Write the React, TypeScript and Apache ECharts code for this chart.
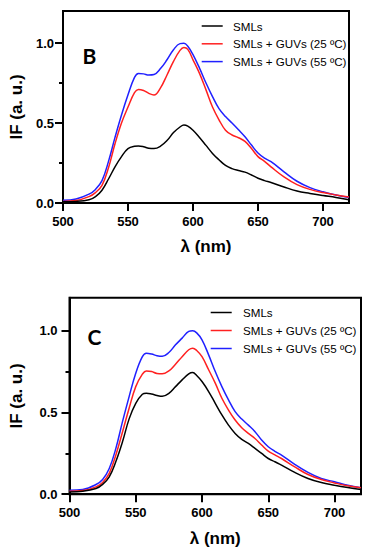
import React, { useEffect, useRef } from "react";
import * as echarts from "echarts";

const wavelengths = [500, 510, 520, 525, 530, 535, 540, 545, 550, 555, 558, 562, 566, 570, 575, 580, 585, 590, 593, 596, 600, 605, 610, 615, 620, 625, 630, 635, 640, 645, 650, 655, 660, 670, 680, 690, 700, 710, 720];

const seriesNames = ["SMLs", "SMLs + GUVs (25 ºC)", "SMLs + GUVs (55 ºC)"];
const seriesColors = ["#000000", "#ff2020", "#2020ff"];

// Panel B
const bSMLs = [0.008, 0.01, 0.02, 0.04, 0.08, 0.15, 0.226, 0.29, 0.34, 0.355, 0.357, 0.352, 0.342, 0.34, 0.355, 0.39, 0.44, 0.475, 0.487, 0.48, 0.455, 0.41, 0.36, 0.31, 0.27, 0.235, 0.215, 0.203, 0.193, 0.175, 0.155, 0.14, 0.128, 0.1, 0.075, 0.06, 0.047, 0.035, 0.02];
const bGUV25 = [0.01, 0.015, 0.04, 0.065, 0.11, 0.22, 0.37, 0.5, 0.6, 0.69, 0.71, 0.703, 0.685, 0.675, 0.72, 0.8, 0.885, 0.954, 0.972, 0.96, 0.895, 0.81, 0.707, 0.6, 0.52, 0.455, 0.425, 0.408, 0.385, 0.34, 0.29, 0.26, 0.226, 0.163, 0.115, 0.085, 0.065, 0.05, 0.038];
const bGUV55 = [0.017, 0.025, 0.055, 0.085, 0.14, 0.26, 0.41, 0.55, 0.676, 0.785, 0.81, 0.807, 0.8, 0.803, 0.84, 0.895, 0.958, 0.996, 0.998, 0.98, 0.927, 0.843, 0.75, 0.665, 0.59, 0.54, 0.5, 0.458, 0.414, 0.362, 0.312, 0.28, 0.258, 0.195, 0.136, 0.096, 0.07, 0.05, 0.035];

// Panel C
const cSMLs = [0.014, 0.018, 0.035, 0.06, 0.106, 0.2, 0.32, 0.46, 0.555, 0.61, 0.617, 0.612, 0.603, 0.598, 0.616, 0.657, 0.698, 0.735, 0.743, 0.725, 0.688, 0.627, 0.555, 0.484, 0.422, 0.371, 0.335, 0.31, 0.28, 0.249, 0.218, 0.198, 0.178, 0.133, 0.096, 0.071, 0.055, 0.041, 0.029];
const cGUV25 = [0.018, 0.022, 0.045, 0.072, 0.127, 0.24, 0.38, 0.525, 0.657, 0.733, 0.753, 0.749, 0.737, 0.735, 0.753, 0.794, 0.84, 0.882, 0.892, 0.878, 0.84, 0.76, 0.678, 0.586, 0.514, 0.453, 0.406, 0.371, 0.34, 0.3, 0.263, 0.24, 0.218, 0.167, 0.12, 0.09, 0.069, 0.051, 0.039];
const cGUV55 = [0.024, 0.029, 0.059, 0.09, 0.157, 0.28, 0.443, 0.596, 0.739, 0.84, 0.861, 0.856, 0.846, 0.842, 0.865, 0.912, 0.953, 0.994, 0.998, 0.985, 0.943, 0.851, 0.749, 0.657, 0.576, 0.504, 0.459, 0.422, 0.382, 0.331, 0.29, 0.262, 0.239, 0.182, 0.133, 0.096, 0.076, 0.055, 0.039];

const xTicks = [500, 550, 600, 650, 700];
const yMajorTicks = [0, 0.5, 1.0];
const yMinorTicks = [0.25, 0.75];
const panelLabels = ["B", "C"];

const FONT = "'Liberation Sans', Arial, sans-serif";

export default function App() {
  const ref = useRef<HTMLDivElement>(null);

  useEffect(() => {
    if (!ref.current) return;
    const chart = echarts.init(ref.current, null, { renderer: "svg" });

    const grids = [
      { left: 61, top: 11, width: 288, height: 192 },
      { left: 67.7, top: 297.7, width: 293.3, height: 196.5 },
    ];
    const yNameGaps = [38, 44.5];
    const xNameGaps = [35, 36];
    const xLabelMargins = [12, 11.5];
    const yLabelMargins = [9, 12];
    const panelData = [
      [bSMLs, bGUV25, bGUV55],
      [cSMLs, cGUV25, cGUV55],
    ];
    const legendPos = [
      { lineX: 201.7, textX: 233, ys: [26, 43.8, 61.6] },
      { lineX: 210.7, textX: 243, ys: [312.5, 330.5, 348.5] },
    ];
    const letterPos = [
      { x: 82.5, y: 55.5 },
      { x: 87.5, y: 336 },
    ];

    const xAxis: any[] = [];
    const yAxis: any[] = [];
    const series: any[] = [];
    const graphic: any[] = [];

    grids.forEach((g, gi) => {
      xAxis.push({
        type: "value",
        gridIndex: gi,
        min: 500,
        max: 720,
        interval: 50,
        name: "λ (nm)",
        nameLocation: "middle",
        nameGap: xNameGaps[gi],
        nameTextStyle: { fontFamily: FONT, fontWeight: "bold", fontSize: 17, color: "#000" },
        axisLine: { show: true, lineStyle: { color: "#000", width: 2 } },
        axisTick: { show: true, length: 8, customValues: xTicks, lineStyle: { color: "#000", width: 2 } },
        axisLabel: {
          customValues: xTicks,
          margin: xLabelMargins[gi],
          fontFamily: FONT,
          fontWeight: "bold",
          fontSize: 13,
          color: "#000",
        },
        splitLine: { show: false },
      });
      yAxis.push({
        type: "value",
        gridIndex: gi,
        min: 0,
        max: 1.2,
        interval: 0.25,
        name: "IF (a. u.)",
        nameLocation: "middle",
        nameGap: yNameGaps[gi],
        nameTextStyle: { fontFamily: FONT, fontWeight: "bold", fontSize: 17, color: "#000" },
        axisLine: { show: true, lineStyle: { color: "#000", width: 2 } },
        axisTick: { show: true, length: 8, customValues: yMajorTicks, lineStyle: { color: "#000", width: 2 } },
        axisLabel: {
          customValues: yMajorTicks,
          margin: yLabelMargins[gi],
          formatter: (v: number) => v.toFixed(1),
          fontFamily: FONT,
          fontWeight: "bold",
          fontSize: 13,
          color: "#000",
        },
        splitLine: { show: false },
      });
      yAxis.push({
        type: "value",
        gridIndex: gi,
        min: 0,
        max: 1.2,
        interval: 0.25,
        position: "left",
        axisLine: { show: false },
        axisTick: { show: true, length: 4, customValues: yMinorTicks, lineStyle: { color: "#000", width: 2 } },
        axisLabel: { show: false },
        splitLine: { show: false },
      });

      panelData[gi].forEach((vals, si) => {
        series.push({
          type: "line",
          name: seriesNames[si],
          xAxisIndex: gi,
          yAxisIndex: gi * 2,
          data: wavelengths.map((w, i) => [w, vals[i]]),
          showSymbol: false,
          smooth: 0.4,
          lineStyle: { color: seriesColors[si], width: 1.5 },
          itemStyle: { color: seriesColors[si] },
          z: 3 - si,
        });
      });

      const lp = legendPos[gi];
      seriesNames.forEach((nm, si) => {
        graphic.push({
          type: "line",
          shape: { x1: lp.lineX, y1: lp.ys[si], x2: lp.lineX + 21, y2: lp.ys[si] },
          style: { stroke: seriesColors[si], lineWidth: 1.5 },
        });
        graphic.push({
          type: "text",
          x: lp.textX,
          y: lp.ys[si],
          style: {
            text: nm,
            fontFamily: FONT,
            fontSize: 11.6,
            fill: "#000",
            verticalAlign: "middle",
            align: "left",
          },
        });
      });

      graphic.push({
        type: "text",
        x: letterPos[gi].x,
        y: letterPos[gi].y,
        style: {
          text: panelLabels[gi],
          fontFamily: "Lato, 'Open Sans', sans-serif",
          fontWeight: "bold",
          fontSize: 21,
          fill: "#000",
          verticalAlign: "middle",
          align: "left",
        },
      });
    });

    chart.setOption({
      animation: false,
      backgroundColor: "#ffffff",
      grid: grids.map((g) => ({
        ...g,
        show: true,
        borderColor: "#000",
        borderWidth: 2,
        backgroundColor: "transparent",
      })),
      xAxis,
      yAxis,
      series,
      graphic,
    });

    return () => chart.dispose();
  }, []);

  return (
    <div
      ref={ref}
      style={{ position: "absolute", left: 0, top: 0, width: 369, height: 550, background: "#fff" }}
    />
  );
}
